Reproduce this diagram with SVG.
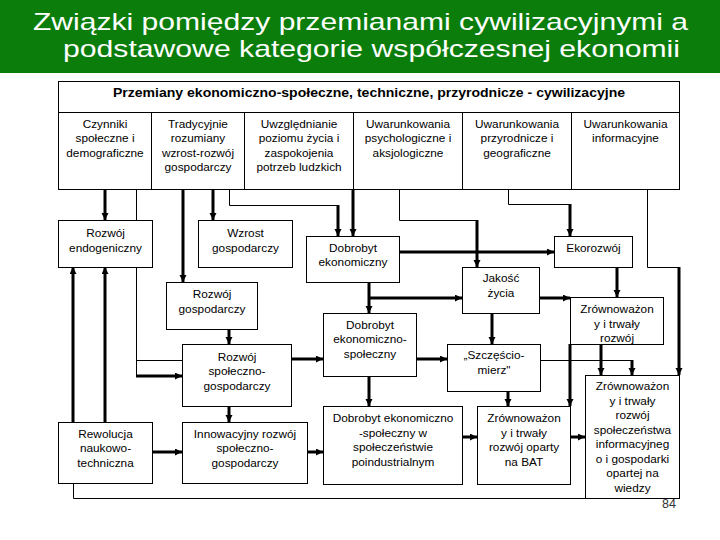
<svg xmlns="http://www.w3.org/2000/svg" width="720" height="540" viewBox="0 0 720 540">
<defs>
<style>
.box{fill:#fff;stroke:#000;stroke-width:1}
.t{font-family:"Liberation Sans",Arial,sans-serif;font-size:11.8px;text-anchor:middle;fill:#000}
.thick{stroke:#000;stroke-width:3;fill:none}
.thin{stroke:#000;stroke-width:1;fill:none}
.ttl{font-family:"Liberation Sans",Arial,sans-serif;font-size:24px;fill:#fff}
</style>
<marker id="a" markerUnits="userSpaceOnUse" markerWidth="8" markerHeight="8" refX="7" refY="3.5" orient="auto"><path d="M0,0 L7,3.5 L0,7 z" fill="#000"/></marker>
</defs>
<rect x="0" y="0" width="720" height="540" fill="#fff"/>
<g id="title">
<rect x="0" y="0" width="720" height="73" fill="#0b7d0b"/>
<text class="ttl" x="33" y="29.5" textLength="655" lengthAdjust="spacingAndGlyphs">Związki pomiędzy przemianami cywilizacyjnymi a</text>
<text class="ttl" x="63" y="56.5" textLength="617" lengthAdjust="spacingAndGlyphs">podstawowe kategorie współczesnej ekonomii</text>
</g>
<g id="connectors">
<path class="thick" d="M105,189.5 V220" marker-end="url(#a)"/>
<path class="thin" d="M136.5,189.5 V376"/>
<path class="thin" d="M136.5,360.5 H182"/>
<path class="thick" d="M136,376 H182" marker-end="url(#a)"/>
<path class="thick" d="M183,189.5 V282" marker-end="url(#a)"/>
<path class="thick" d="M213,189.5 V220" marker-end="url(#a)"/>
<path class="thin" d="M229.5,189.5 V205.5 H338"/>
<path class="thick" d="M338,205 V236" marker-end="url(#a)"/>
<path class="thick" d="M353,189.5 V236" marker-end="url(#a)"/>
<path class="thin" d="M399.5,189.5 V220.5 H477"/>
<path class="thick" d="M477,220 V267" marker-end="url(#a)"/>
<path class="thin" d="M508.5,189.5 V204.5 H570"/>
<path class="thick" d="M570,204 V236" marker-end="url(#a)"/>
<path class="thin" d="M647.5,189.5 V267.5 H679"/>
<path class="thick" d="M679,267 V375" marker-end="url(#a)"/>
<path class="thick" d="M399,252 H554" marker-end="url(#a)"/>
<path class="thick" d="M617,267 V297" marker-end="url(#a)"/>
<path class="thick" d="M369,283 V313" marker-end="url(#a)"/>
<path class="thick" d="M369,298 H462" marker-end="url(#a)"/>
<path class="thick" d="M539,298 H570" marker-end="url(#a)"/>
<path class="thick" d="M492,313 V344" marker-end="url(#a)"/>
<path class="thick" d="M416,359 H447" marker-end="url(#a)"/>
<path class="thick" d="M291,359 H323" marker-end="url(#a)"/>
<path class="thick" d="M229,329 V344" marker-end="url(#a)"/>
<path class="thick" d="M229,406 V422" marker-end="url(#a)"/>
<path class="thick" d="M73,422 V267" marker-end="url(#a)"/>
<path class="thick" d="M105,422 V267" marker-end="url(#a)"/>
<path class="thick" d="M152,452 H182" marker-end="url(#a)"/>
<path class="thick" d="M307,452 H323" marker-end="url(#a)"/>
<path class="thick" d="M369,376 V406" marker-end="url(#a)"/>
<path class="thick" d="M462,437 H477" marker-end="url(#a)"/>
<path class="thick" d="M570,437 H585" marker-end="url(#a)"/>
<path class="thick" d="M508,391 V406" marker-end="url(#a)"/>
<path class="thick" d="M570,344 V406" marker-end="url(#a)"/>
<path class="thick" d="M601,344 V375" marker-end="url(#a)"/>
<path class="thin" d="M540,360.5 H632"/>
<path class="thick" d="M632,360 V375" marker-end="url(#a)"/>
<path class="thin" d="M73.5,484 V498.5 H585"/>
</g>
<g id="header">
<rect class="box" x="58.5" y="81.5" width="621" height="31"/>
<text class="t" x="369" y="97" style="font-size:13px;font-weight:bold" textLength="512" lengthAdjust="spacingAndGlyphs">Przemiany ekonomiczno-społeczne, techniczne, przyrodnicze - cywilizacyjne</text>
</g>
<g id="col1"><rect class="box" x="58.5" y="112.5" width="93" height="77"/>
<text class="t" x="105" y="127.5">Czynniki</text><text class="t" x="105" y="142">społeczne i</text><text class="t" x="105" y="156.5">demograficzne</text></g>
<g id="col2"><rect class="box" x="151.5" y="112.5" width="93" height="77"/>
<text class="t" x="198" y="127.5">Tradycyjnie</text><text class="t" x="198" y="142">rozumiany</text><text class="t" x="198" y="156.5">wzrost-rozwój</text><text class="t" x="198" y="171">gospodarczy</text></g>
<g id="col3"><rect class="box" x="244.5" y="112.5" width="109" height="77"/>
<text class="t" x="299" y="127.5">Uwzględnianie</text><text class="t" x="299" y="142">poziomu życia i</text><text class="t" x="299" y="156.5">zaspokojenia</text><text class="t" x="299" y="171">potrzeb ludzkich</text></g>
<g id="col4"><rect class="box" x="353.5" y="112.5" width="109" height="77"/>
<text class="t" x="408" y="127.5">Uwarunkowania</text><text class="t" x="408" y="142">psychologiczne i</text><text class="t" x="408" y="156.5">aksjologiczne</text></g>
<g id="col5"><rect class="box" x="462.5" y="112.5" width="109" height="77"/>
<text class="t" x="517" y="127.5">Uwarunkowania</text><text class="t" x="517" y="142">przyrodnicze i</text><text class="t" x="517" y="156.5">geograficzne</text></g>
<g id="col6"><rect class="box" x="571.5" y="112.5" width="108" height="77"/>
<text class="t" x="625.5" y="127.5">Uwarunkowania</text><text class="t" x="625.5" y="142">informacyjne</text></g>
<g id="endog"><rect class="box" x="58.5" y="220.5" width="94" height="47"/>
<text class="t" x="105.5" y="237">Rozwój</text><text class="t" x="105.5" y="251.5">endogeniczny</text></g>
<g id="wzrost"><rect class="box" x="198.5" y="220.5" width="94" height="47"/>
<text class="t" x="245.5" y="237">Wzrost</text><text class="t" x="245.5" y="251.5">gospodarczy</text></g>
<g id="dobrobytEk"><rect class="box" x="306.5" y="236.5" width="93" height="46"/>
<text class="t" x="353" y="251.5">Dobrobyt</text><text class="t" x="353" y="266">ekonomiczny</text></g>
<g id="ekorozwoj"><rect class="box" x="554.5" y="236.5" width="78" height="31"/>
<text class="t" x="593.5" y="251.5">Ekorozwój</text></g>
<g id="jakosc"><rect class="box" x="462.5" y="267.5" width="77" height="46"/>
<text class="t" x="501" y="282">Jakość</text><text class="t" x="501" y="296.5">życia</text></g>
<g id="rozwojGosp"><rect class="box" x="166.5" y="282.5" width="91" height="47"/>
<text class="t" x="212" y="298">Rozwój</text><text class="t" x="212" y="312.5">gospodarczy</text></g>
<g id="zrown1"><rect class="box" x="570.5" y="297.5" width="93" height="47"/>
<text class="t" x="617" y="313">Zrównoważon</text><text class="t" x="617" y="327.5">y i trwały</text><text class="t" x="617" y="342">rozwój</text></g>
<g id="dobrobytES"><rect class="box" x="323.5" y="313.5" width="93" height="63"/>
<text class="t" x="370" y="328.5">Dobrobyt</text><text class="t" x="370" y="343">ekonomiczno-</text><text class="t" x="370" y="357.5">społeczny</text></g>
<g id="szczescio"><rect class="box" x="447.5" y="344.5" width="93" height="47"/>
<text class="t" x="494" y="359">„Szczęścio-</text><text class="t" x="494" y="373.5">mierz"</text></g>
<g id="rozwojSG"><rect class="box" x="182.5" y="344.5" width="109" height="62"/>
<text class="t" x="237" y="360.5">Rozwój</text><text class="t" x="237" y="375">społeczno-</text><text class="t" x="237" y="389.5">gospodarczy</text></g>
<g id="zrownBig"><rect class="box" x="585.5" y="375.5" width="94" height="123"/>
<text class="t" x="632.5" y="390">Zrównoważon</text><text class="t" x="632.5" y="404.5">y i trwały</text><text class="t" x="632.5" y="419">rozwój</text><text class="t" x="632.5" y="433.5">społeczeństwa</text><text class="t" x="632.5" y="448">informacyjneg</text><text class="t" x="632.5" y="462.5">o i gospodarki</text><text class="t" x="632.5" y="477">opartej na</text><text class="t" x="632.5" y="491.5">wiedzy</text></g>
<g id="poind"><rect class="box" x="323.5" y="406.5" width="139" height="78"/>
<text class="t" x="393" y="422">Dobrobyt ekonomiczno</text><text class="t" x="393" y="436.5">-społeczny w</text><text class="t" x="393" y="451">społeczeństwie</text><text class="t" x="393" y="465.5">poindustrialnym</text></g>
<g id="bat"><rect class="box" x="477.5" y="406.5" width="93" height="78"/>
<text class="t" x="524" y="422">Zrównoważon</text><text class="t" x="524" y="436.5">y i trwały</text><text class="t" x="524" y="451">rozwój oparty</text><text class="t" x="524" y="465.5">na BAT</text></g>
<g id="rewolucja"><rect class="box" x="58.5" y="422.5" width="94" height="61"/>
<text class="t" x="105.5" y="437.5">Rewolucja</text><text class="t" x="105.5" y="452">naukowo-</text><text class="t" x="105.5" y="466.5">techniczna</text></g>
<g id="innow"><rect class="box" x="182.5" y="422.5" width="125" height="61"/>
<text class="t" x="245" y="437.5">Innowacyjny rozwój</text><text class="t" x="245" y="452">społeczno-</text><text class="t" x="245" y="466.5">gospodarczy</text></g>
<text x="669" y="507.5" style="font-family:'Liberation Sans',Arial,sans-serif;font-size:12.5px;fill:#333;text-anchor:middle">84</text>
</svg>
